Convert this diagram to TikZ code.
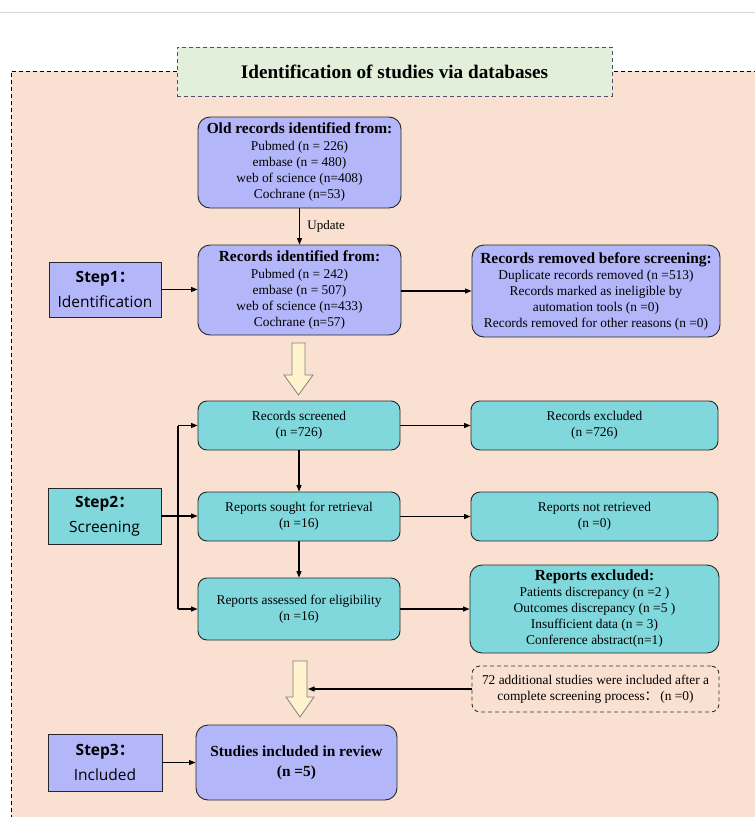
\documentclass[tikz,border=0pt]{standalone}
\usepackage{fontspec}
\setmainfont{Liberation Serif}
\newfontfamily\stepfont{Open Sans}
\newfontfamily\cjk{Noto Sans CJK SC}
\usetikzlibrary{arrows.meta}
\definecolor{peri}{HTML}{B4B6FA}
\definecolor{tealc}{HTML}{80D8DC}
\definecolor{peach}{HTML}{F9E0D1}
\definecolor{titleg}{HTML}{E2EFDA}
\definecolor{titleb}{HTML}{44546A}
\definecolor{hollowy}{HTML}{FFF2CC}
\definecolor{greyline}{HTML}{D9D9D9}
\tikzset{
  body/.style={font=\fontsize{13.4}{16}\selectfont},
  pbox/.style={draw=black!85, fill=peri, rounded corners=12pt, line width=0.9pt, align=center, inner sep=0pt, body},
  tbox/.style={draw=black!85, fill=tealc, rounded corners=9pt, line width=0.9pt, align=center, inner sep=0pt, body},
  stepbox/.style={draw=black!85, line width=0.9pt, align=center, inner sep=0pt, font=\stepfont\fontsize{15.5}{25.5}\selectfont},
  conn/.style={line width=1.1pt, -{Triangle[length=6.5pt,width=5pt]}},
  plainline/.style={line width=1.1pt},
  hollow/.style={draw=black!50, fill=hollowy, line width=0.8pt, line join=miter}
}
\newcommand{\hdg}[1]{{\bfseries\fontsize{15.4}{16}\selectfont #1}}
\begin{document}
\begin{tikzpicture}[x=1pt,y=-1pt]
\useasboundingbox (0,0) rectangle (755,817);
% top grey line
\draw[greyline, line width=1pt] (0,12) -- (755,12);
% peach background
\fill[peach] (11,71) rectangle (757,819);
\draw[dashed, line width=1pt, dash pattern=on 4pt off 3pt] (11,819) -- (11,71) -- (757,71);
% title
\node[draw=titleb, fill=titleg, dashed, dash pattern=on 4pt off 3pt, line width=0.9pt, minimum width=435pt, minimum height=49pt, inner sep=0pt,
      font=\bfseries\fontsize{19.2}{22}\selectfont] (title) at (394.5,71.5) {Identification of studies via databases};

% identification
\node[pbox, minimum width=203pt, minimum height=91pt] (old) at (299.5,162.5)
 {\hdg{Old records identified from:}\\[1pt]Pubmed (n = 226)\\embase (n = 480)\\web of science (n=408)\\Cochrane (n=53)};
\node[pbox, minimum width=203pt, minimum height=90pt] (rid) at (299.5,290)
 {\hdg{Records identified from:}\\[1pt]Pubmed (n = 242)\\embase (n = 507)\\web of science (n=433)\\Cochrane (n=57)};
\node[pbox, minimum width=248pt, minimum height=92pt] (rem) at (596,291)
 {\hdg{Records removed before screening:}\\Duplicate records removed (n =513)\\Records marked as ineligible by\\automation tools (n =0)\\Records removed for other reasons (n =0)};
\node[stepbox, fill=peri, minimum width=112pt, minimum height=55pt] (s1) at (105,289.5)
 {{\bfseries Step1\cjk：}\\Identification};

\draw[conn] (old.south) -- node[right=4pt, font=\fontsize{13}{15}\selectfont] (upd) {Update} (rid.north);
\draw[conn] (s1.east) -- (s1.east -| rid.west);
\draw[conn] (rid.east |- rem.west) -- (rem.west);

% hollow arrow 1
\path[hollow] (292,343) -- (305,343) -- (305,375) -- (313,375) -- (298.5,395) -- (284,375) -- (292,375) -- cycle;

% screening
\node[tbox, minimum width=202pt, minimum height=49pt] (scr) at (299,425.5) {Records screened\\(n =726)};
\node[tbox, minimum width=247pt, minimum height=49pt] (exc) at (594.5,425.5) {Records excluded\\(n =726)};
\node[tbox, minimum width=202pt, minimum height=49pt] (sou) at (299,516.5) {Reports sought for retrieval\\(n =16)};
\node[tbox, minimum width=247pt, minimum height=49pt] (nret) at (594.5,516.5) {Reports not retrieved\\(n =0)};
\node[tbox, minimum width=202pt, minimum height=62pt] (ass) at (299,609) {Reports assessed for eligibility\\(n =16)};
\node[tbox, rounded corners=12pt, minimum width=249pt, minimum height=88pt] (rexc) at (594.5,609)
 {\hdg{Reports excluded:}\\Patients discrepancy (n =2 )\\Outcomes discrepancy (n =5 )\\Insufficient data (n = 3)\\Conference abstract(n=1)};
\node[stepbox, fill=tealc, minimum width=113pt, minimum height=56pt] (s2) at (104.5,516)
 {{\bfseries Step2\cjk：}\\Screening};

\coordinate (vt) at (178,425.5);
\coordinate (vb) at (178,609);
\draw[plainline] (vt) -- (vb);
\draw[conn] (vt) -- (scr.west);
\draw[conn] (vb) -- (ass.west);
\draw[conn] (s2.east) -- (s2.east -| sou.west);
\draw[conn] (scr.south) -- (sou.north);
\draw[conn] (sou.south) -- (ass.north);
\draw[conn] (scr.east) -- (exc.west);
\draw[conn] (sou.east) -- (nret.west);
\draw[conn] (ass.east) -- (rexc.west);

% additional studies
\node[draw=black!80, dashed, dash pattern=on 4pt off 3pt, rounded corners=8pt, line width=0.9pt, minimum width=247pt, minimum height=46pt, align=center, inner sep=0pt,
      font=\fontsize{13.4}{15.5}\selectfont] (add) at (595.5,689)
 {72 additional studies were included after a\\complete screening process{\cjk：}\,(n =0)};

% hollow arrow 2
\path[hollow] (293,661) -- (307,661) -- (307,697) -- (314,697) -- (300,717) -- (286,697) -- (293,697) -- cycle;
\coordinate (hin) at (308,689);
\draw[conn] (add.west) -- (hin);

% included
\node[pbox, minimum width=201pt, minimum height=75pt, font=\bfseries\fontsize{15.4}{20}\selectfont] (inc) at (296.5,762.5)
 {Studies included in review\\(n =5)};
\node[stepbox, fill=peri, minimum width=114pt, minimum height=57pt] (s3) at (105,762.5)
 {{\bfseries Step3\cjk：}\\Included};
\draw[conn] (s3.east) -- (inc.west);
\end{tikzpicture}
\end{document}
